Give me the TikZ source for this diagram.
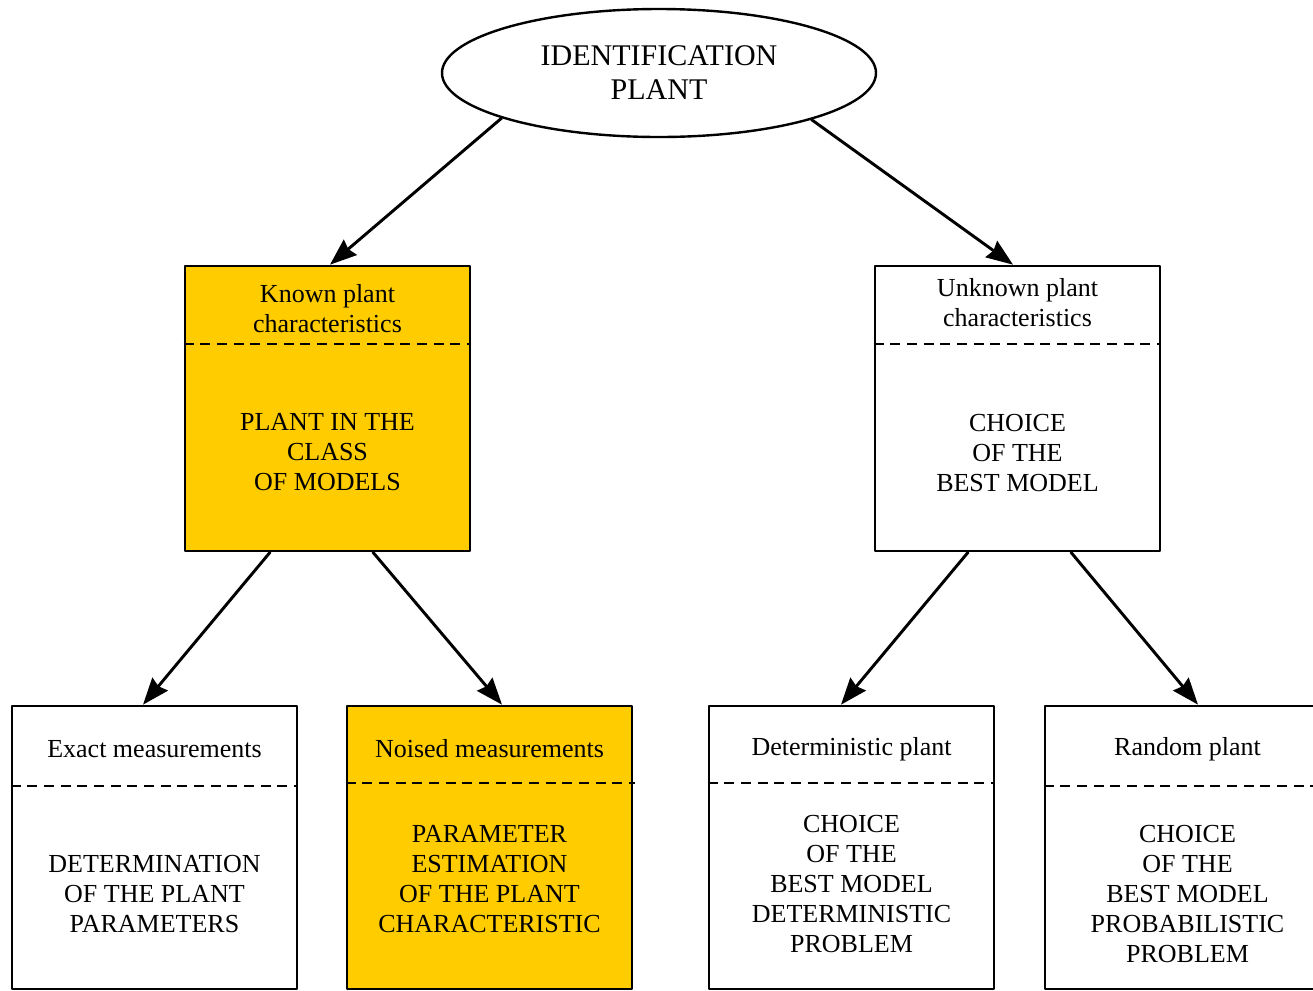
\documentclass[tikz,border=0pt]{standalone}
\usepackage{fontspec}
\setmainfont{Liberation Serif}
\usetikzlibrary{arrows.meta,shapes.geometric,calc}
\definecolor{plantgold}{HTML}{FFCC00}

\begin{document}
\begin{tikzpicture}[x=0.75pt,y=-0.75pt,>={Stealth[length=20pt,width=15pt,inset=2pt]},line cap=round,line join=round,
  box/.style={draw,line width=2pt,minimum width=213.75pt,minimum height=213.75pt,inner sep=0pt},
  lowbox/.style={box,minimum height=212.25pt},
  txt/.style={align=center,inner sep=0pt,font=\fontsize{19.5}{22.5}\selectfont},
  divider/.style={dash pattern=on 7.5pt off 5pt,line width=2pt,line cap=butt},
  link/.style={->,line width=2.2pt}]
\useasboundingbox (0,0) rectangle (1313,990);
\node[draw,ellipse,line width=1.8pt,minimum width=325.5pt,minimum height=96pt,align=center,inner sep=0pt,
  font=\fontsize{22.5}{25.5}\selectfont] (plant) at (659,73) {IDENTIFICATION\\PLANT};
\node[box,fill=plantgold] (known) at (327.5,408.5) {};
\node[box] (unknown) at (1017.5,408.5) {};
\node[lowbox] (exact) at (154.5,847.5) {};
\node[lowbox,fill=plantgold] (noised) at (489.5,847.5) {};
\node[lowbox] (determ) at (851.5,847.5) {};
\node[lowbox] (random) at (1187.5,847.5) {};
\draw[divider] (known.west |- 0,344) -- (known.east |- 0,344);
\draw[divider] (unknown.west |- 0,344) -- (unknown.east |- 0,344);
\draw[divider] (exact.west |- 0,786) -- (exact.east |- 0,786);
\draw[divider] (noised.west |- 0,783) -- ($(noised.east |- 0,783)+(2,0)$);
\draw[divider] (determ.west |- 0,783) -- (determ.east |- 0,783);
\draw[divider] (random.west |- 0,786) -- (random.east |- 0,786);
\node[txt] (knownhead) at (327.5,309) {Known plant\\characteristics};
\node[txt] (knownbody) at (327.5,452) {PLANT IN THE\\CLASS\\OF MODELS};
\node[txt] (unknownhead) at (1017.5,303) {Unknown plant\\characteristics};
\node[txt] (unknownbody) at (1017.5,453) {CHOICE\\OF THE\\BEST MODEL};
\node[txt] (exacthead) at (154.5,749) {Exact measurements};
\node[txt] (exactbody) at (154.5,894) {DETERMINATION\\OF THE PLANT\\PARAMETERS};
\node[txt] (noisedhead) at (489.5,749) {Noised measurements};
\node[txt] (noisedbody) at (489.5,879) {PARAMETER\\ESTIMATION\\OF THE PLANT\\CHARACTERISTIC};
\node[txt] (determhead) at (851.5,749) {Deterministic plant};
\node[txt] (determbody) at (851.5,884) {CHOICE\\OF THE\\BEST MODEL\\DETERMINISTIC\\PROBLEM};
\node[txt] (randomhead) at (1187.5,749) {Random plant};
\node[txt] (randombody) at (1187.5,894) {CHOICE\\OF THE\\BEST MODEL\\PROBABILISTIC\\PROBLEM};
\draw[link] (plant.196.6) -- ($(known.north)+(2.5,0)$);
\draw[link] (plant.343.3) -- ($(unknown.north)+(-4.5,0)$);
\draw[link] ($(known.south)+(-57.5,0)$) -- ($(exact.north)+(-11.5,0)$);
\draw[link] ($(known.south)+(45.5,0)$) -- ($(noised.north)+(12.5,0)$);
\draw[link] ($(unknown.south)+(-49.5,0)$) -- ($(determ.north)+(-10.5,0)$);
\draw[link] ($(unknown.south)+(53.5,0)$) -- ($(random.north)+(10.5,0)$);
\end{tikzpicture}
\end{document}
